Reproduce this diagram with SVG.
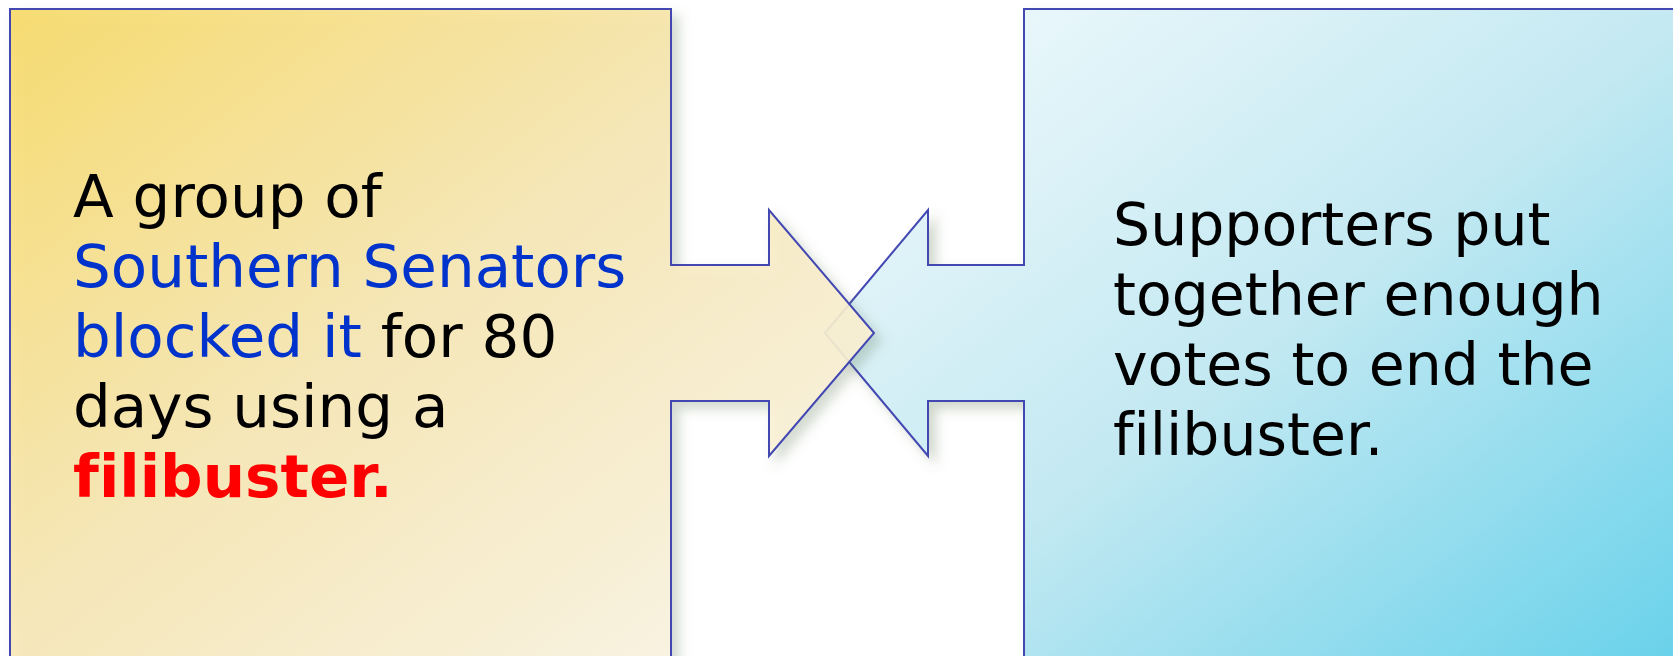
<svg xmlns="http://www.w3.org/2000/svg" width="1673" height="656" viewBox="0 0 1673 656">
  <style>
    .shape { stroke: #4347B2; stroke-width: 2; stroke-linejoin: miter; }
    .txt { font-family: "DejaVu Sans", Verdana, sans-serif; font-size: 58.5px; fill: #000000; font-variant-ligatures: none; font-feature-settings: "liga" 0; }
    .lt { font-size: 59.5px; }
    .blue { fill: #0033CC; }
    .red { fill: #FF0000; font-weight: bold; }
  </style>
  <defs>
    <linearGradient id="gradLeft" x1="0" y1="0" x2="1" y2="1">
      <stop offset="0" stop-color="#F8DA66"/>
      <stop offset="0.45" stop-color="#F7E7B3"/>
      <stop offset="1" stop-color="#FCF8EE"/>
    </linearGradient>
    <linearGradient id="gradRight" x1="0" y1="0" x2="1" y2="1">
      <stop offset="0" stop-color="#F4FBFD"/>
      <stop offset="0.5" stop-color="#C4E9F2"/>
      <stop offset="1" stop-color="#66D1EA"/>
    </linearGradient>
    <filter id="shadow" x="-10%" y="-10%" width="130%" height="130%">
      <feDropShadow dx="7" dy="7" stdDeviation="6" flood-color="#5F7A55" flood-opacity="0.3"/>
    </filter>
  </defs>
  <rect width="1673" height="656" fill="#FFFFFF"/>
  <g id="connectors"/>
  <g id="node-right">
    <path class="shape" filter="url(#shadow)" fill="url(#gradRight)" d="M1024,9 L1690,9 L1690,670 L1024,670 L1024,401 L928,401 L928,456 L825,333 L928,210 L928,265 L1024,265 Z"/>
    <text class="txt" x="1113" y="245">Supporters put</text>
    <text class="txt" x="1113" y="315">together enough</text>
    <text class="txt" x="1113" y="385">votes to end the</text>
    <text class="txt" x="1113" y="455">filibuster.</text>
  </g>
  <g id="node-left">
    <path class="shape" filter="url(#shadow)" fill="url(#gradLeft)" fill-opacity="0.9" d="M10,9 L671,9 L671,265 L769,265 L769,210 L874,333 L769,456 L769,401 L671,401 L671,670 L10,670 Z"/>
    <text class="txt lt" x="73" y="217">A group of</text>
    <text class="txt lt blue" x="73" y="287">Southern Senators</text>
    <text class="txt lt" x="73" y="357"><tspan class="blue">blocked it</tspan> for 80</text>
    <text class="txt lt" x="73" y="427">days using a</text>
    <text class="txt lt red" x="73" y="497">filibuster.</text>
  </g>
</svg>
